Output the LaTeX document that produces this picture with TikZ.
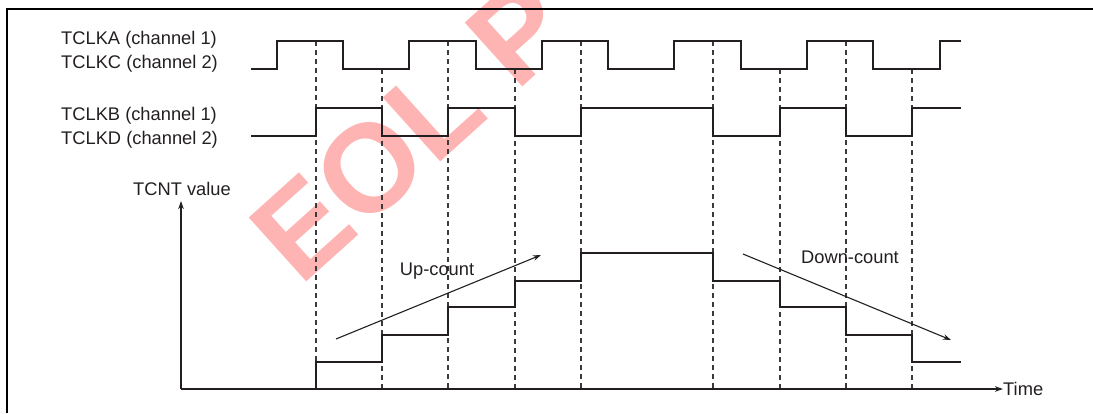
\documentclass[tikz,border=0pt]{standalone}
\usepackage{fontspec}
\setmainfont{Liberation Sans}
\usetikzlibrary{arrows.meta,positioning}
\definecolor{wave}{HTML}{231F20}
\definecolor{guide}{HTML}{3A3A3A}
\definecolor{stamp}{HTML}{FFB4B4}
\tikzset{
  >={Stealth[length=8pt,width=5.5pt]},
  % texte
  lbl/.style={anchor=base west,inner sep=0pt,font=\fontsize{18.3}{22}\selectfont,text=wave},
  mark lbl/.style={lbl,anchor=base},
  stampfont/.style={text=stamp,inner sep=0pt,anchor=base west,rotate=42,
             font=\fontsize{125}{125}\selectfont\bfseries},
  % linien
  sig/.style={draw=wave,line width=2.7pt},
  vline/.style={draw=guide,line width=1.1pt,dash pattern=on 5pt off 4pt},
  axis/.style={->,draw=wave,line width=1.4pt},
  trend/.style={->,draw=wave,line width=1.1pt},
  frame/.style={draw=black,line width=2.4pt},
}
\begin{document}
\begin{tikzpicture}[x=1pt,y=-1pt]
\useasboundingbox (0,0) rectangle (1093,413);
\begin{scope}
  \clip (0,0) rectangle (1093,413);
  \node[stampfont] (eol) at (300,288) {EOL P};
\end{scope}
\draw[frame] (7,413) |- (1093,9);
  % beschriftung
  \node[lbl] (tclka) at (61,44) {TCLKA (channel 1)};
  \node[lbl] (tclkc) at (61,68) {TCLKC (channel 2)};
  \node[lbl] (tclkb) at (61,120) {TCLKB (channel 1)};
  \node[lbl] (tclkd) at (61,144) {TCLKD (channel 2)};
  \node[lbl] (tcnt) at (133,195) {TCNT value};
  % hilfslinien
  \foreach \x in {316,448,581,713,846}
    \draw[vline] (\x,41) -- (\x,388);
  \foreach \x in {382,515,780,912}
    \draw[vline] (\x,69) -- (\x,388);
  % takte
  \draw[sig] (251,69) -| (277,41) -| (343,69) -| (409,41) -| (476,69)
    -| (542,41) -| (608,69) -| (674,41) -| (741,69) -| (807,41)
    -| (873,69) -| (940,41) -- (961,41);
  \draw[sig] (251,136) -| (316,108) -| (382,136) -| (448,108) -| (515,136)
    -| (581,108) -| (713,136) -| (780,108) -| (846,136) -| (912,108)
    -- (961,108);
  % zaehler
  \coordinate (origin) at (181,389);
  \coordinate (ytip) at (181,201);
  \coordinate (xtip) at (1003,389);
  \draw[axis] (origin) -- (ytip);
  \draw[axis] (origin) -- (xtip);
  \node[lbl,anchor=west,right=0pt of xtip] (time) {Time};
  \draw[sig] (316,389) |- (382,362) |- (448,335) |- (515,307) |- (581,281)
    |- (713,253) |- (780,281) |- (846,307) |- (912,335) |- (961,362);
  \coordinate (up0) at (336,339);
  \coordinate (up1) at (541,255);
  \coordinate (dn0) at (743,254);
  \coordinate (dn1) at (951,340);
  \draw[trend] (up0) -- (up1);
  \draw[trend] (dn0) -- (dn1);
  \node[mark lbl] (upl) at (437,275) {Up-count};
  \node[mark lbl] (dnl) at (850,263) {Down-count};
\end{tikzpicture}
\end{document}
